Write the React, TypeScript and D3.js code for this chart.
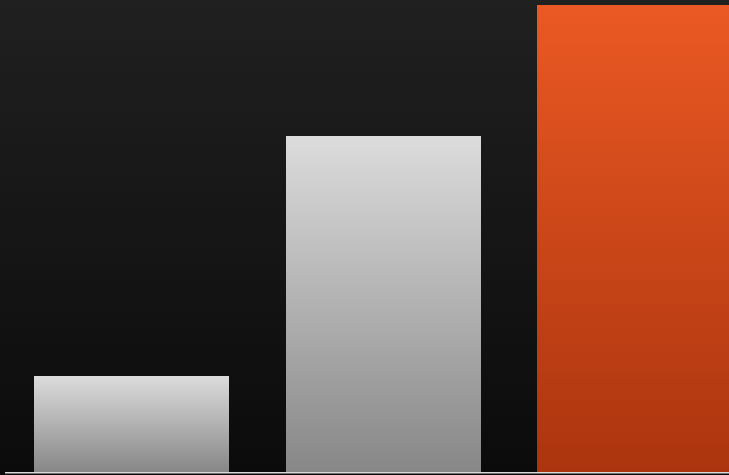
import React from "react";
import * as d3 from "d3";

const categories = ["A", "B", "C"];
const values = [20.6, 72, 100];
const highlight = [false, false, true];

const W = 729;
const H = 475;
const baseY = 472;
const topY = 5;

export default function App() {
  const step = 251.5;
  const p = 56.5 / step;
  const x = d3
    .scaleBand<string>()
    .domain(categories)
    .range([-22.5, -22.5 + step * (3 + p)])
    .paddingInner(p)
    .paddingOuter(p);
  const y = d3.scaleLinear().domain([0, 100]).range([baseY, topY]);

  return (
    <svg
      width={W}
      height={H}
      style={{ position: "fixed", left: 0, top: 0, display: "block" }}
    >
      <defs>
        <linearGradient id="bg" x1="0" y1="0" x2="0" y2="1">
          <stop offset="0%" stopColor="#202020" />
          <stop offset="100%" stopColor="#0b0b0b" />
        </linearGradient>
        <linearGradient id="gray" x1="0" y1="0" x2="0" y2="1">
          <stop offset="0%" stopColor="#dcdcdc" />
          <stop offset="100%" stopColor="#878787" />
        </linearGradient>
        <linearGradient id="orange" x1="0" y1="0" x2="0" y2="1">
          <stop offset="0%" stopColor="#ea5923" />
          <stop offset="100%" stopColor="#ab340e" />
        </linearGradient>
      </defs>
      <rect x={0} y={0} width={W} height={H} fill="url(#bg)" />
      {categories.map((c, i) => {
        const top = y(values[i]);
        return (
          <rect
            key={c}
            x={x(c)}
            y={top}
            width={x.bandwidth()}
            height={baseY - top}
            fill={highlight[i] ? "url(#orange)" : "url(#gray)"}
            shapeRendering="crispEdges"
          />
        );
      })}
      <rect x={5} y={472} width={W - 5} height={1.5} fill="#d8d8d8" />
    </svg>
  );
}
